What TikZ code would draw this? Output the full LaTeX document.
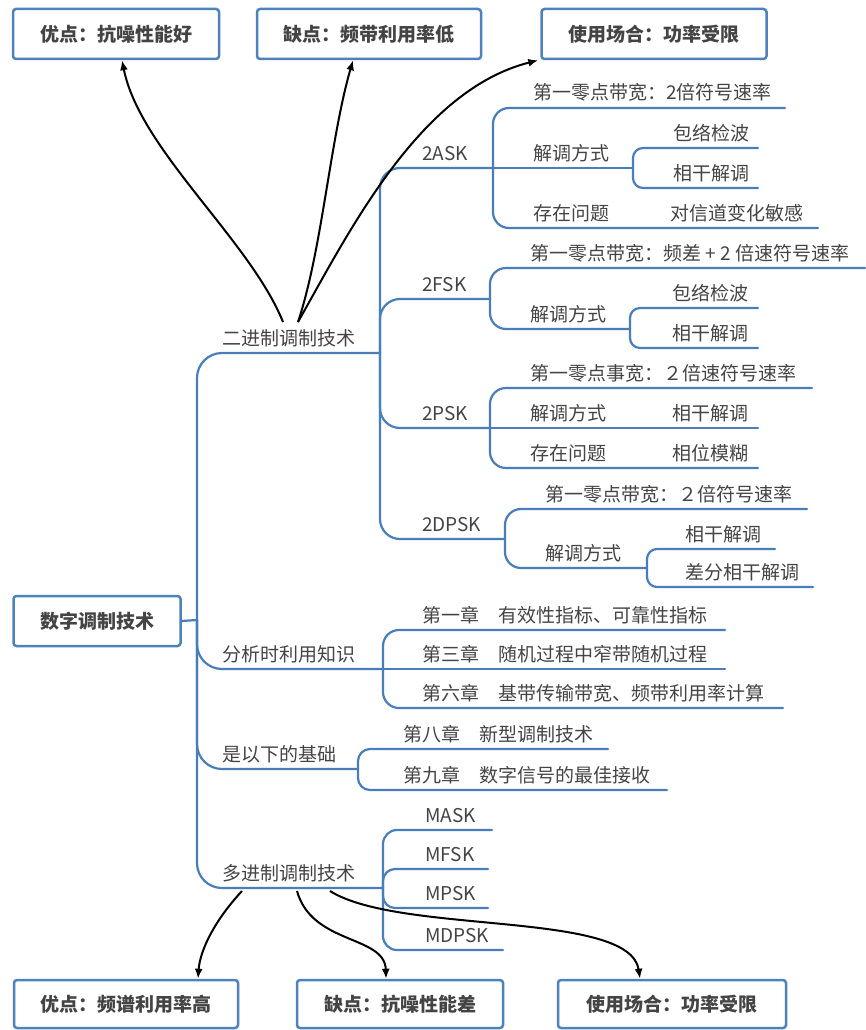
\documentclass[tikz,border=0pt]{standalone}
\usepackage{fontspec}
\setmainfont{Noto Sans CJK SC}
\usetikzlibrary{arrows.meta}
\definecolor{lineblue}{RGB}{74,126,187}
\definecolor{boxblue}{RGB}{79,129,189}
\definecolor{txt}{RGB}{68,68,68}
\newcommand\lab[4]{\node[lbl] (#1) at ({#2},{#3-8}) {#4};}
\newcommand\brc[5]{\coordinate (#2) at (#3,#4); \draw[br, rounded corners=#5] (#1) |- (#2);}
\newcommand\brs[4]{\coordinate (#2) at (#3,#4); \draw[br] (#1) -- (#2);}
\begin{document}
\begin{tikzpicture}[x=1pt,y=-1pt,
  lbl/.style={anchor=base west, inner sep=0pt, font=\fontsize{19}{22}\selectfont, text=txt},
  box/.style={draw=boxblue, line width=2.5pt, rounded corners=3pt, fill=white, font=\fontsize{19}{22}\selectfont\bfseries, text=txt, minimum height=50pt, inner sep=0pt},
  br/.style={draw=lineblue, line width=2.2pt, line cap=round},
  arr/.style={draw=black, line width=2pt, -{Latex[length=10pt,width=8pt]}}]
\useasboundingbox (0,0) rectangle (865,1030);
\fill[white] (0,0) rectangle (865,1030);
% boxes
\node[box, minimum width=206pt] (t1) at (116,34) {优点：抗噪性能好};
\node[box, minimum width=224pt] (t2) at (369,34) {缺点：频带利用率低};
\node[box, minimum width=225pt] (t3) at (654,34) {使用场合：功率受限};
\node[box, minimum width=167pt] (root) at (97,621) {数字调制技术};
\node[box, minimum width=224pt, minimum height=48pt] (b1) at (126,1004) {优点：频谱利用率高};
\node[box, minimum width=206pt, minimum height=48pt] (b2) at (400,1004) {缺点：抗噪性能差};
\node[box, minimum width=228pt, minimum height=48pt] (b3) at (672,1004) {使用场合：功率受限};
% trunk
\coordinate (B0) at (197,620);
\draw[br] (root.east) -- (B0);
\brc{B0}{B1}{380}{353}{25}
\brc{B0}{B2}{383}{669}{25}
\brc{B0}{B3}{358}{769}{25}
\brc{B0}{B4}{383}{888}{25}
% binary
\brc{B1}{C1}{493}{168}{20}
\brc{B1}{C2}{490}{299}{20}
\brc{B1}{C3}{490}{428}{20}
\brc{B1}{C4}{505}{539}{20}
% 2ASK
\brc{C1}{ua1}{785}{108}{16}
\brs{C1}{D1}{633}{168}
\brc{C1}{ua3}{818}{228}{16}
\brc{D1}{ua4}{758}{148}{10}
\brc{D1}{ua5}{758}{188}{10}
% 2FSK
\brc{C2}{uf1}{865}{268}{16}
\brc{C2}{D2}{630}{329}{16}
\brc{D2}{uf3}{758}{308}{10}
\brc{D2}{uf4}{758}{348}{10}
% 2PSK
\brc{C3}{up1}{812}{388}{16}
\brs{C3}{up2}{758}{428}
\brc{C3}{up3}{758}{468}{16}
% 2DPSK
\brc{C4}{ud1}{807}{509}{16}
\brc{C4}{D3}{647}{568}{16}
\brc{D3}{ud3}{775}{549}{10}
\brc{D3}{ud4}{813}{587}{10}
% analysis
\brc{B2}{us1}{725}{630}{16}
\brs{B2}{us2}{725}{669}
\brc{B2}{us3}{783}{708}{16}
% basis
\brc{B3}{uj1}{608}{749}{12}
\brc{B3}{uj2}{667}{790}{12}
% M-ary
\brc{B4}{um1}{492}{830}{14}
\brc{B4}{um2}{488}{869}{12}
\brc{B4}{um3}{488}{908}{12}
\brc{B4}{um4}{503}{950}{14}
% labels
\lab{n1}{222}{353}{二进制调制技术}
\lab{n2}{222}{669}{分析时利用知识}
\lab{n3}{222}{769}{是以下的基础}
\lab{n4}{222}{888}{多进制调制技术}
\lab{ta}{422}{168}{2ASK}
\lab{tf}{422}{299}{2FSK}
\lab{tp}{422}{428}{2PSK}
\lab{td}{422}{539}{2DPSK}
\lab{ta1}{533}{108}{第一零点带宽：2倍符号速率}
\lab{ta2}{533}{168}{解调方式}
\lab{ta3}{533}{228}{存在问题}
\lab{ta4}{670}{228}{对信道变化敏感}
\lab{ta5}{673}{148}{包络检波}
\lab{ta6}{673}{188}{相干解调}
\lab{tf1}{530}{268}{第一零点带宽：频差 + 2 倍速符号速率}
\lab{tf2}{530}{329}{解调方式}
\lab{tf3}{672}{308}{包络检波}
\lab{tf4}{672}{348}{相干解调}
\lab{tp1}{530}{388}{第一零点事宽：２倍速符号速率}
\lab{tp2}{530}{428}{解调方式}
\lab{tp3}{672}{428}{相干解调}
\lab{tp4}{530}{468}{存在问题}
\lab{tp5}{672}{468}{相位模糊}
\lab{td1}{545}{509}{第一零点带宽：２倍符号速率}
\lab{td2}{545}{568}{解调方式}
\lab{td3}{685}{549}{相干解调}
\lab{td4}{685}{587}{差分相干解调}
\lab{ts1}{422}{630}{第一章　有效性指标、可靠性指标}
\lab{ts2}{422}{669}{第三章　随机过程中窄带随机过程}
\lab{ts3}{422}{708}{第六章　基带传输带宽、频带利用率计算}
\lab{tj1}{403}{749}{第八章　新型调制技术}
\lab{tj2}{403}{790}{第九章　数字信号的最佳接收}
\lab{tm1}{425}{830}{MASK}
\lab{tm2}{425}{869}{MFSK}
\lab{tm3}{425}{908}{MPSK}
\lab{tm4}{425}{950}{MDPSK}
% arrows
\coordinate (srcL) at (283,322);
\coordinate (src) at (298,322);
\draw[arr] (srcL) .. controls (250,240) and (140,150) .. ([xshift=6pt]t1.south);
\draw[arr] (src) .. controls (322,250) and (330,140) .. ([xshift=-16pt]t2.south);
\draw[arr] (src) .. controls (350,230) and (420,90) .. ([xshift=-2pt]t3.south west);
\coordinate (s1) at (242,891);
\coordinate (s2) at (297,891);
\coordinate (s3) at (330,891);
\draw[arr] (s1) .. controls (215,920) and (200,950) .. ([xshift=72pt]b1.north);
\draw[arr] (s2) .. controls (312,945) and (385,935) .. ([xshift=-14pt]b2.north);
\draw[arr] (s3) .. controls (400,935) and (630,910) .. ([xshift=-32pt]b3.north);
\end{tikzpicture}
\end{document}
